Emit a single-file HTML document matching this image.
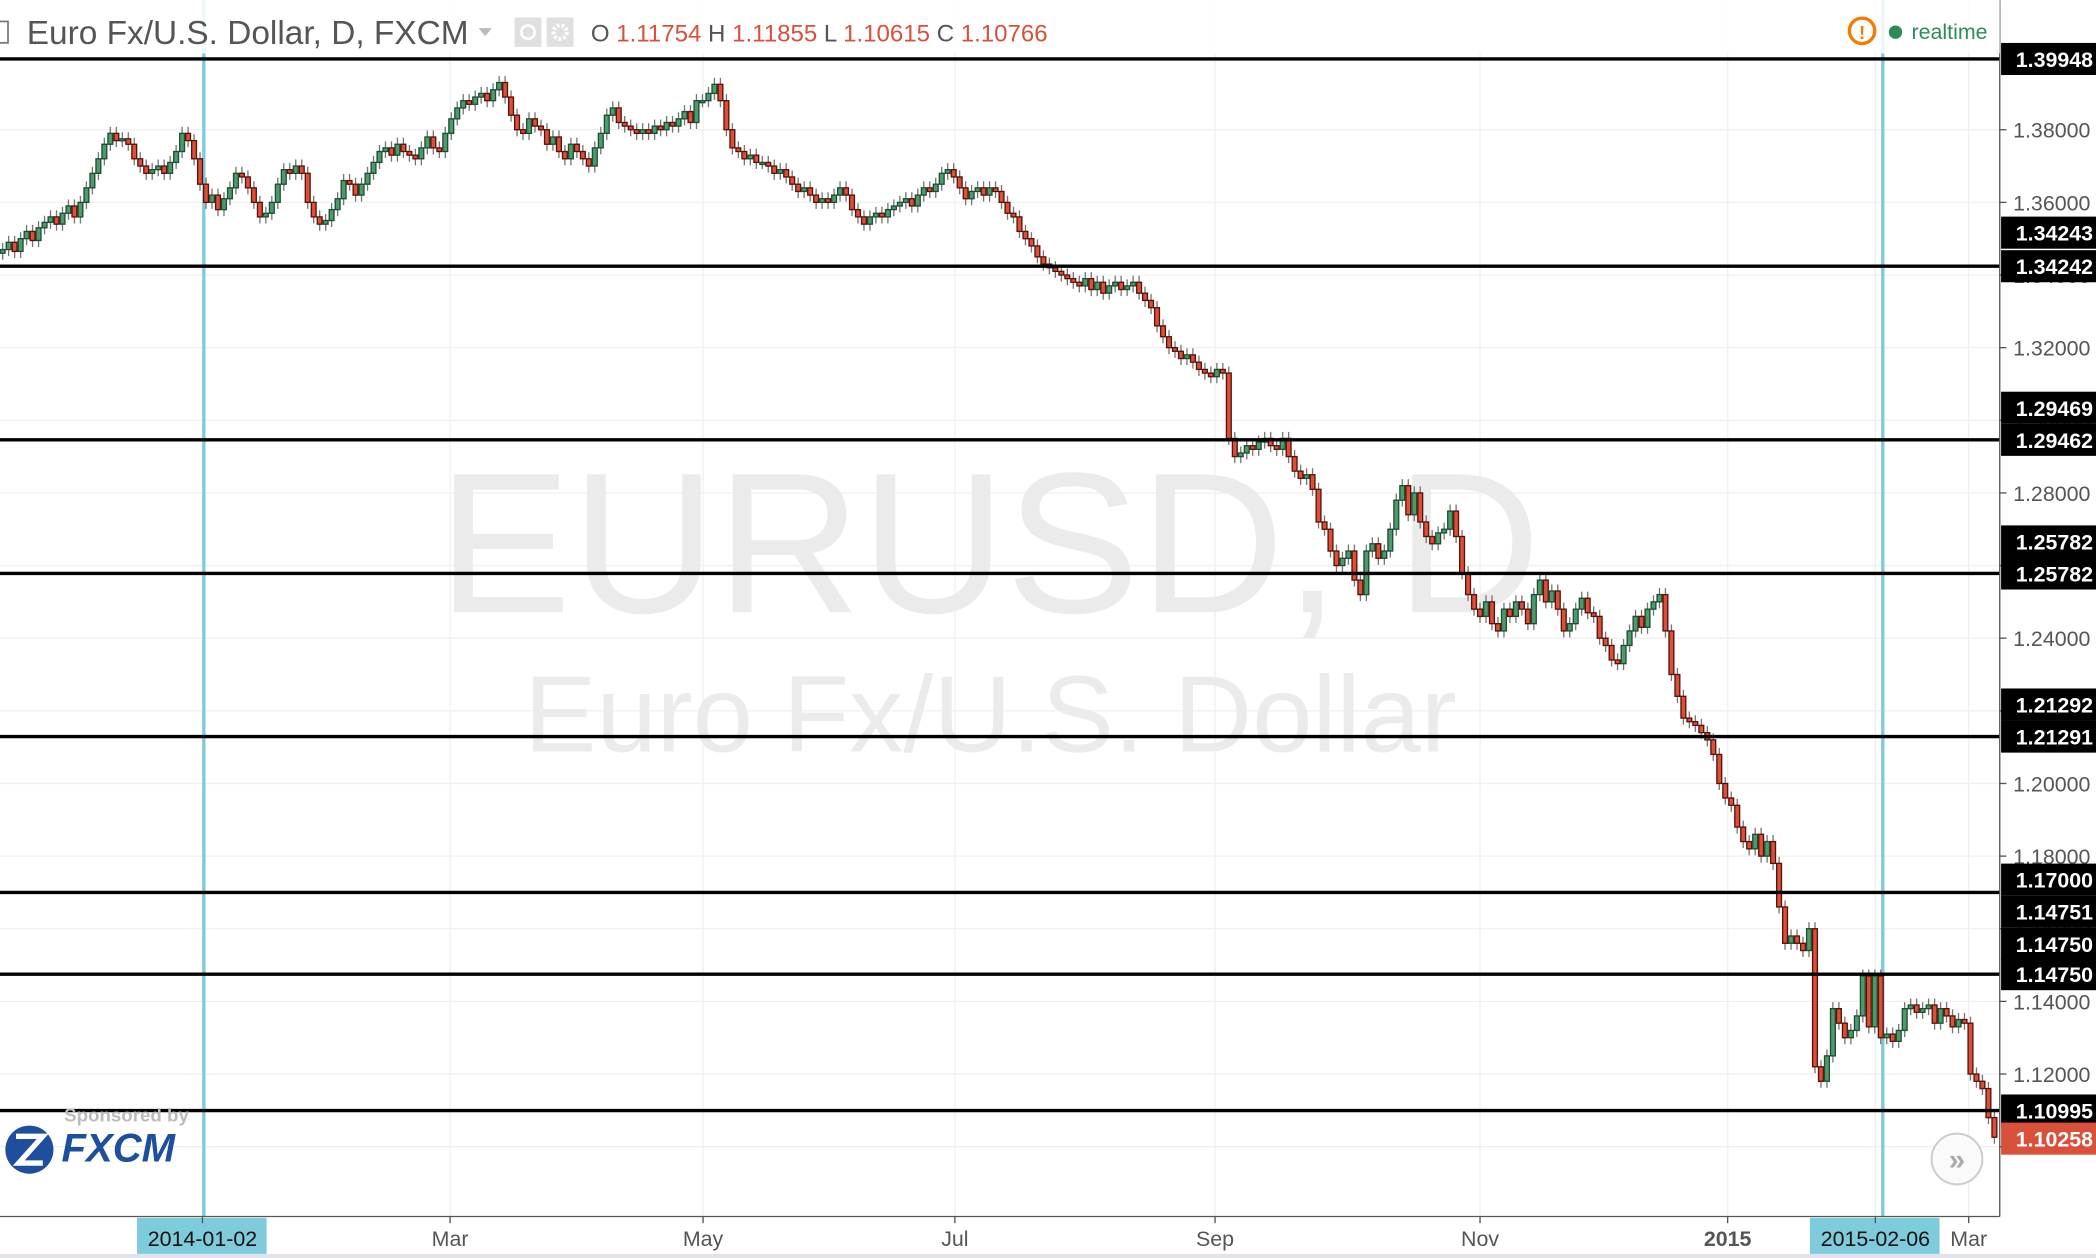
<!DOCTYPE html>
<html><head><meta charset="utf-8">
<style>
html,body{margin:0;padding:0;background:#fff;}
svg{display:block;font-family:"Liberation Sans",sans-serif;}
</style></head>
<body>
<svg id="chart" width="2096" height="1258" viewBox="0 0 1568 941" xmlns="http://www.w3.org/2000/svg">
<rect x="0" y="0" width="1568" height="941" fill="#fff"/>
<g id="grid"></g>
<text x="740" y="458" text-anchor="middle" font-size="150" fill="#ebebeb">EURUSD, D</text>
<text x="741" y="562" text-anchor="middle" font-size="81" fill="#ebebeb">Euro Fx/U.S. Dollar</text>
<line x1="152.5" y1="0" x2="152.5" y2="910" stroke="#7ecbdb" stroke-width="2.5"/>
<line x1="1408.5" y1="0" x2="1408.5" y2="910" stroke="#7ecbdb" stroke-width="2.5"/>
<g id="candles"></g>
<g id="hlines"></g>
<rect x="1496" y="0" width="72" height="941" fill="#fff"/>
<line x1="1496" y1="0" x2="1496" y2="910" stroke="#555" stroke-width="1"/>
<line x1="0" y1="910" x2="1496" y2="910" stroke="#555" stroke-width="1"/>
<g id="yticks"></g>
<g id="labels"></g>
<g id="xticks"></g>
<rect x="0" y="938" width="1568" height="3" fill="#e0e3eb"/>
<rect x="0" y="0" width="1496" height="40" fill="#fff" fill-opacity="0.85"/>
<rect x="-4" y="16" width="10" height="16" fill="none" stroke="#777" stroke-width="1.3"/>
<text x="20" y="33" font-size="25" fill="#555">Euro Fx/U.S. Dollar, D, FXCM</text>
<path d="M358 21 L368 21 L363 27 Z" fill="#bbb"/>
<rect x="385" y="13" width="20" height="22" fill="#e0e0e0"/>
<circle cx="395" cy="24" r="5" fill="none" stroke="#fff" stroke-width="2"/>
<rect x="409" y="13" width="20" height="22" fill="#e0e0e0"/>
<circle cx="419" cy="24" r="5" fill="none" stroke="#fff" stroke-width="3" stroke-dasharray="2 1.5"/>
<text x="442" y="31" font-size="18" fill="#555">O <tspan fill="#d9503b">1.11754</tspan> H <tspan fill="#d9503b">1.11855</tspan> L <tspan fill="#d9503b">1.10615</tspan> C <tspan fill="#d9503b">1.10766</tspan></text>
<circle cx="1393" cy="23" r="9.5" fill="none" stroke="#f57c00" stroke-width="2.5"/>
<text x="1393" y="29" text-anchor="middle" font-size="14" font-weight="bold" fill="#f57c00">!</text>
<circle cx="1418" cy="24" r="5" fill="#2e8b57"/>
<text x="1430" y="29" font-size="16" fill="#2e8b57">realtime</text>
<text x="48" y="839" font-size="14" font-weight="bold" fill="#bbb">Sponsored by</text>
<circle cx="22" cy="860" r="18" fill="#1e4f9c"/>
<path d="M12 850 L32 850 L14 870 L32 870" fill="none" stroke="#fff" stroke-width="4"/>
<text x="46" y="869" font-size="30" font-weight="bold" font-style="italic" fill="#1e4f9c">FXCM</text>
<circle cx="1464" cy="867" r="19" fill="#fafafa" stroke="#ccc" stroke-width="1.5"/>
<text x="1464" y="875" text-anchor="middle" font-size="22" font-weight="bold" fill="#aaa">»</text>
</svg>
<script>
const closes = [
1.3470,1.3490,1.3465,1.3500,1.3520,1.3495,1.3530,1.3545,1.3560,1.3540,
1.3570,1.3590,1.3560,1.3600,1.3640,1.3680,1.3720,1.3760,1.3790,1.3770,
1.3775,1.3760,1.3720,1.3700,1.3680,1.3690,1.3700,1.3680,1.3710,1.3740,
1.3790,1.3770,1.3720,1.3650,1.3600,1.3620,1.3580,1.3610,1.3640,1.3680,
1.3670,1.3640,1.3600,1.3560,1.3570,1.3600,1.3650,1.3690,1.3680,1.3700,
1.3680,1.3600,1.3560,1.3540,1.3550,1.3580,1.3610,1.3660,1.3650,1.3620,
1.3650,1.3680,1.3710,1.3740,1.3750,1.3730,1.3760,1.3740,1.3730,1.3720,
1.3750,1.3780,1.3750,1.3740,1.3790,1.3830,1.3860,1.3880,1.3870,1.3890,
1.3900,1.3880,1.3910,1.3930,1.3890,1.3840,1.3800,1.3790,1.3830,1.3810,
1.3800,1.3760,1.3780,1.3740,1.3720,1.3760,1.3740,1.3720,1.3700,1.3750,
1.3790,1.3840,1.3860,1.3820,1.3810,1.3800,1.3790,1.3800,1.3790,1.3810,
1.3800,1.3820,1.3810,1.3830,1.3850,1.3820,1.3880,1.3880,1.3900,1.3925,
1.3880,1.3800,1.3750,1.3740,1.3720,1.3730,1.3710,1.3710,1.3700,1.3680,
1.3690,1.3670,1.3650,1.3630,1.3640,1.3620,1.3600,1.3610,1.3600,1.3620,
1.3640,1.3620,1.3580,1.3560,1.3540,1.3560,1.3570,1.3560,1.3580,1.3590,
1.3600,1.3610,1.3590,1.3620,1.3640,1.3630,1.3650,1.3680,1.3690,1.3670,
1.3640,1.3610,1.3630,1.3640,1.3620,1.3640,1.3630,1.3600,1.3570,1.3560,
1.3520,1.3500,1.3480,1.3450,1.3430,1.3420,1.3410,1.3400,1.3390,1.3380,
1.3370,1.3390,1.3360,1.3380,1.3350,1.3370,1.3380,1.3360,1.3370,1.3380,
1.3350,1.3330,1.3310,1.3260,1.3230,1.3200,1.3190,1.3170,1.3180,1.3160,
1.3140,1.3130,1.3120,1.3140,1.3130,1.2950,1.2900,1.2910,1.2930,1.2920,
1.2940,1.2950,1.2930,1.2920,1.2950,1.2900,1.2860,1.2840,1.2850,1.2810,
1.2720,1.2700,1.2640,1.2600,1.2620,1.2640,1.2560,1.2520,1.2640,1.2660,
1.2620,1.2640,1.2700,1.2780,1.2820,1.2740,1.2800,1.2720,1.2680,1.2660,
1.2690,1.2700,1.2750,1.2680,1.2580,1.2520,1.2480,1.2460,1.2500,1.2440,
1.2420,1.2480,1.2460,1.2500,1.2480,1.2440,1.2520,1.2560,1.2500,1.2530,
1.2480,1.2420,1.2440,1.2480,1.2510,1.2470,1.2460,1.2400,1.2380,1.2340,
1.2330,1.2380,1.2420,1.2460,1.2430,1.2480,1.2500,1.2520,1.2420,1.2300,
1.2240,1.2180,1.2170,1.2160,1.2140,1.2120,1.2080,1.2000,1.1960,1.1940,
1.1880,1.1840,1.1820,1.1860,1.1800,1.1840,1.1780,1.1660,1.1560,1.1580,
1.1560,1.1540,1.1600,1.1220,1.1180,1.1250,1.1380,1.1340,1.1300,1.1320,
1.1360,1.1470,1.1330,1.1470,1.1300,1.1310,1.1290,1.1320,1.1380,1.1390,
1.1370,1.1380,1.1390,1.1340,1.1380,1.1360,1.1330,1.1350,1.1340,1.1200,
1.1180,1.1160,1.1080,1.1026
];
const firstOpen = 1.3460;
const priceTicks = [1.38,1.36,1.34,1.32,1.30,1.28,1.26,1.24,1.22,1.20,1.18,1.16,1.14,1.12,1.10];
const levelLines = [1.39948,1.34242,1.29462,1.25782,1.21291,1.17000,1.14750,1.10995];
const levelLabels = ["1.39948","1.34243","1.34242","1.29469","1.29462","1.25782","1.25782","1.21292","1.21291","1.17000","1.14751","1.14750","1.14750","1.10995"];
const levelLabelValues = [1.39948,1.35166,1.34242,1.30345,1.29462,1.26664,1.25782,1.22174,1.21291,1.17352,1.16469,1.15586,1.14750,1.10995];
const lastPrice = 1.10258;
const timeLabels = ["2014-01-02","Mar","May","Jul","Sep","Nov","2015","2015-02-06","Mar"];
const timeIndex = [33.4,74.8,117.1,159.2,202.7,247.0,288.4,313.1,328.7];

const NS="http://www.w3.org/2000/svg";
const y = p => 97 + (1.38 - p) * 2717;
const X0 = 2, X1 = 1492;
const x = i => X0 + i * (X1 - X0) / (closes.length - 1);
function el(tag, attrs, parent){const e=document.createElementNS(NS,tag);for(const k in attrs)e.setAttribute(k,attrs[k]);parent.appendChild(e);return e;}

const grid=document.getElementById('grid');
priceTicks.forEach(p=>{
  const g=el('line',{x1:0,x2:1496,y1:y(p),y2:y(p),stroke:'#f0f0f0','stroke-width':1},grid);
  
  
});
timeIndex.forEach(i=>{
  const g=el('line',{x1:x(i),x2:x(i),y1:0,y2:910,stroke:'#f0f0f0','stroke-width':1},grid);
  
  
});

const cg=document.getElementById('candles');
closes.forEach((c,i)=>{
  const o = i===0 ? firstOpen : closes[i-1];
  const up = c>=o;
  const hi = Math.max(o,c)+0.0018, lo = Math.min(o,c)-0.0018;
  const cx=x(i);
  const w=el('line',{x1:cx,x2:cx,y1:y(hi),y2:y(lo),stroke:'#777','stroke-width':1},cg);
  
  
  const top=y(Math.max(o,c)), h=Math.max(1.5,Math.abs(y(o)-y(c)));
  const b=el('rect',{x:cx-1.8,y:top,width:3.6,height:h,fill:up?'#4f9a6c':'#d9503b',stroke:up?'#1d4f33':'#5a1208','stroke-width':1},cg);
  
  
});

const hl=document.getElementById('hlines');
levelLines.forEach(p=>{
  const l=el('line',{x1:0,x2:1496,y1:y(p),y2:y(p),stroke:'#000','stroke-width':2.5},hl);
  
  
});

const yt=document.getElementById('yticks');
priceTicks.forEach(p=>{
  const t=el('line',{x1:1496,x2:1501,y1:y(p),y2:y(p),stroke:'#555'},yt);
  
  
  const tx=el('text',{x:1506,y:y(p)+6,'font-size':16,fill:'#555'},yt);
  tx.textContent=p.toFixed(5);
  
  
});
const lb=document.getElementById('labels');
levelLabels.forEach((s,i)=>{
  const yy=y(levelLabelValues[i]);
  const r=el('rect',{x:1497,y:yy-12,width:71,height:24,fill:'#000'},lb);
  
  
  const t=el('text',{x:1508,y:yy+6,'font-size':16,'font-weight':'bold',fill:'#fff'},lb);
  t.textContent=s;
  
  
});
{
  const yy=y(lastPrice)+1;
  const r=el('rect',{x:1497,y:yy-12,width:71,height:24,fill:'#d9503b'},lb);
  
  
  const t=el('text',{x:1508,y:yy+6,'font-size':16,'font-weight':'bold',fill:'#fff'},lb);
  t.textContent=lastPrice.toFixed(5);
  
  
}

const xt=document.getElementById('xticks');
timeLabels.forEach((s,i)=>{
  const cx=x(timeIndex[i]);
  const hi = s.length>6;
  if(hi){
    const r=el('rect',{x:cx-49,y:911,width:97,height:27,fill:'#7ecbdb'},xt);
    
    
  }
  const t=el('line',{x1:cx,x2:cx,y1:910,y2:915,stroke:'#555'},xt);
  
  
  const tx=el('text',{x:cx,y:932,'text-anchor':'middle','font-size':16,fill:hi?'#111':'#555','font-weight':s==='2015'?'bold':'normal'},xt);
  tx.textContent=s;
  
  
});
</script>
</body></html>
